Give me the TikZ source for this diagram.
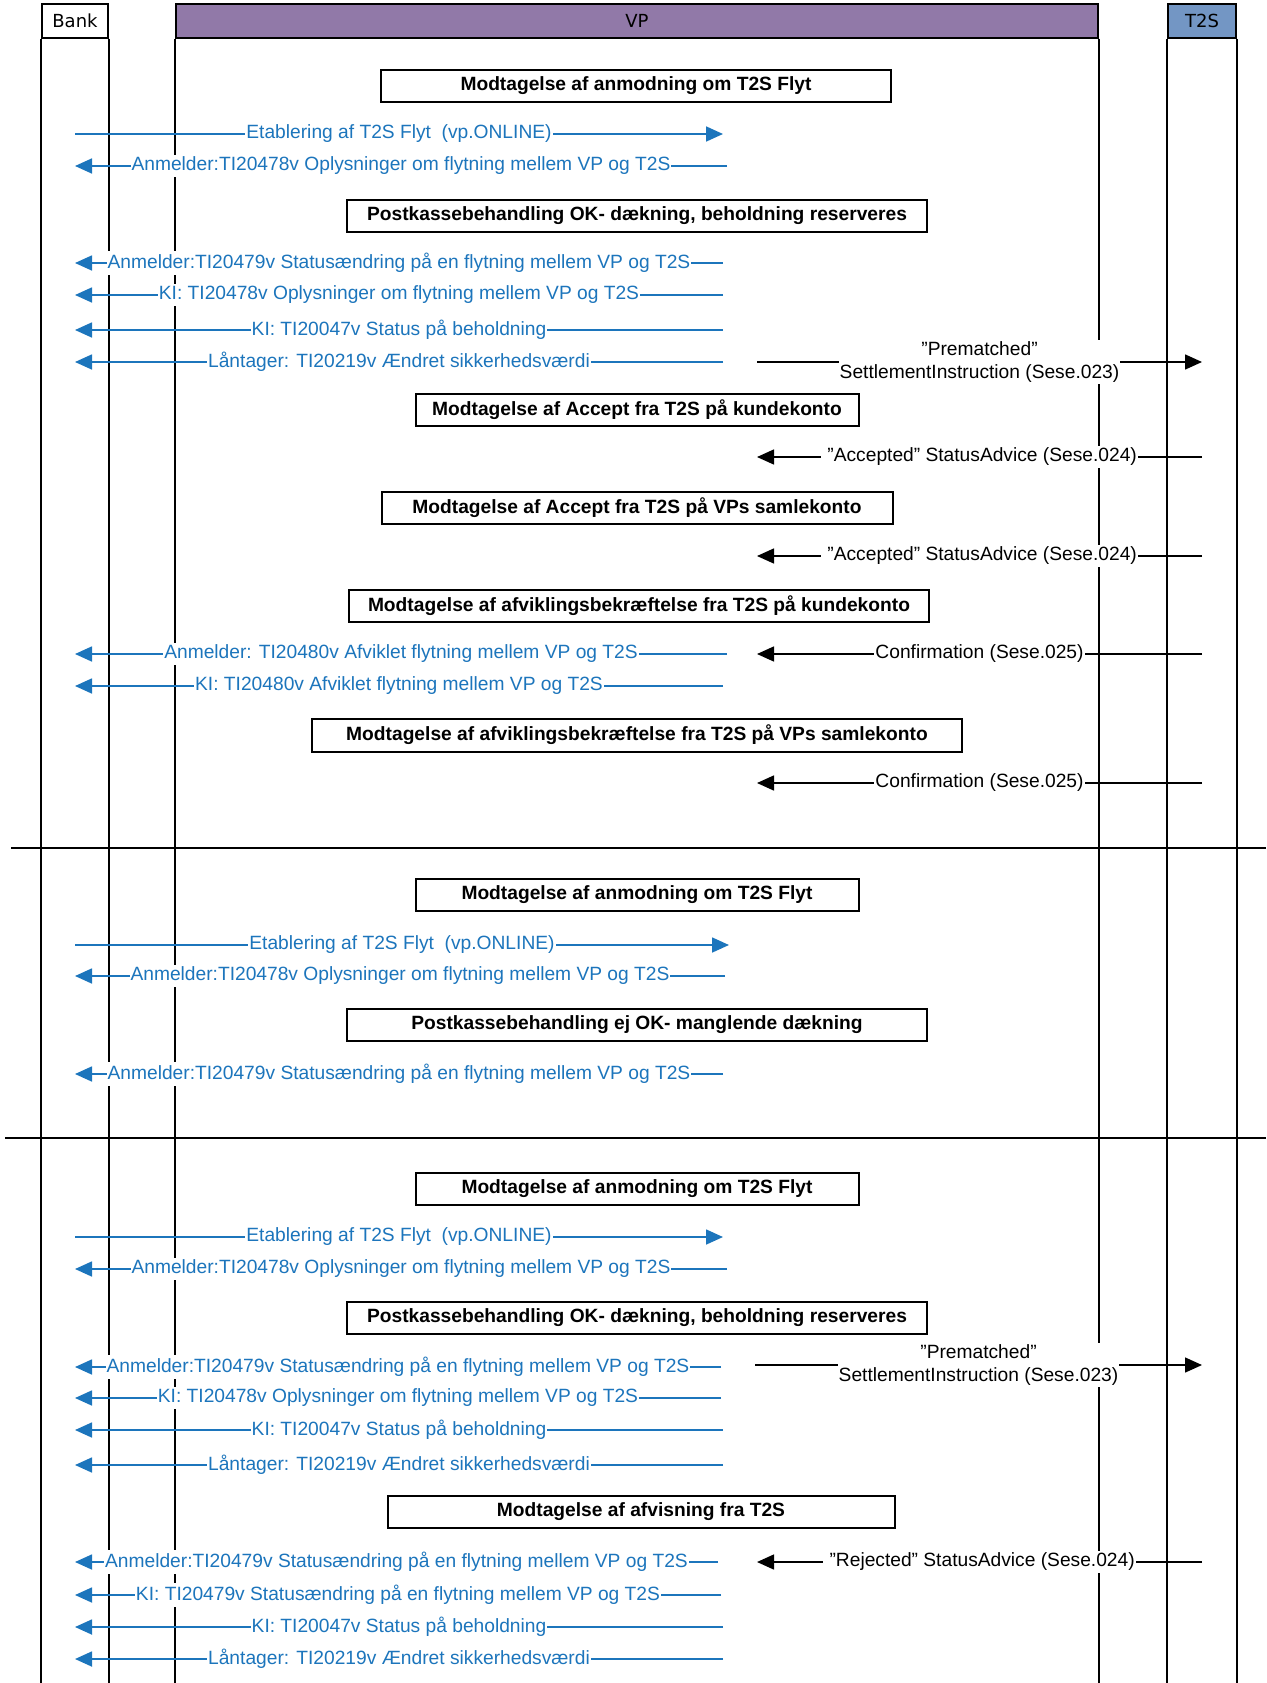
\documentclass[tikz,border=0pt]{standalone}
\usepackage{fontspec}
\setmainfont{Liberation Sans}
\newfontfamily\hdrfont{DejaVu Sans}
\usepackage{tikz}
\usetikzlibrary{arrows.meta}

\definecolor{msgblue}{RGB}{28,117,188}
\definecolor{vppurple}{RGB}{145,121,168}
\definecolor{tsblue}{RGB}{115,150,196}
\newcommand{\msgfont}{\fontsize{19.2}{23}\selectfont}

\tikzset{
  hdr/.style={draw, line width=2pt, minimum height=34pt, inner sep=0pt, font=\hdrfont\fontsize{18}{20}\selectfont},
  phase/.style={draw, line width=2pt, fill=white, minimum height=32pt, inner sep=0pt, font=\msgfont\bfseries},
  life/.style={line width=2pt},
  sepline/.style={line width=2pt},
  bmsg/.style={draw=msgblue, line width=1.7pt, -{Triangle[length=17pt 0,width=15pt 0]}},
  kmsg/.style={draw=black, line width=1.5pt, -{Triangle[length=17pt 0,width=15pt 0]}},
  blbl/.style={fill=white, text=msgblue, inner xsep=1pt, inner ysep=2pt, font=\msgfont},
  klbl/.style={fill=white, inner xsep=1pt, inner ysep=2pt, font=\msgfont, align=center},
}

\begin{document}
\begin{tikzpicture}[x=1pt, y=-1pt]
 \useasboundingbox (0,0) rectangle (1266,1683);

 \node[hdr, minimum width=66pt] (bank) at (75,21) {Bank};
 \node[hdr, fill=vppurple, minimum width=922pt] (vp) at (637,21) {VP};
 \node[hdr, fill=tsblue, minimum width=68pt] (t2s) at (1202,21) {T2S};

 \coordinate (bot) at (0,1683);
 \coordinate (rgt) at (1266,0);
 \draw[life] (bank.south west) -- (bank.south west |- bot);
 \draw[life] (bank.south east) -- (bank.south east |- bot);
 \draw[life] (vp.south west) -- (vp.south west |- bot);
 \draw[life] (vp.south east) -- (vp.south east |- bot);
 \draw[life] (t2s.south west) -- (t2s.south west |- bot);
 \draw[life] (t2s.south east) -- (t2s.south east |- bot);

 \coordinate (sepA) at (11,848);
 \coordinate (sepB) at (5,1138);
 \draw[sepline] (sepA) -- (sepA -| rgt);
 \draw[sepline] (sepB) -- (sepB -| rgt);

 % first part
 \node[phase, minimum width=510pt] (ph1) at (636,86) {Modtagelse af anmodning om T2S Flyt};
 \coordinate (e1) at (723,134);
 \draw[bmsg] (e1 -| bank) -- node[blbl] {Etablering af T2S Flyt\ \ (vp.ONLINE)} (e1);
 \coordinate (b1) at (727,166);
 \draw[bmsg] (b1) -- node[blbl] {Anmelder:TI20478v Oplysninger om flytning mellem VP og T2S} (b1 -| bank);
 \node[phase, minimum width=580pt] (ph2) at (637,216) {Postkassebehandling OK- dækning, beholdning reserveres};
 \coordinate (b2) at (723,263);
 \draw[bmsg] (b2) -- node[blbl] {Anmelder:TI20479v Statusændring på en flytning mellem VP og T2S} (b2 -| bank);
 \coordinate (b3) at (723,295);
 \draw[bmsg] (b3) -- node[blbl] {KI: TI20478v Oplysninger om flytning mellem VP og T2S} (b3 -| bank);
 \coordinate (b4) at (723,330);
 \draw[bmsg] (b4) -- node[blbl] {KI: TI20047v Status på beholdning} (b4 -| bank);
 \coordinate (b5) at (723,362);
 \draw[bmsg] (b5) -- node[blbl] {Låntager: TI20219v Ændret sikkerhedsværdi} (b5 -| bank);
 \coordinate (k1) at (757,362);
 \draw[kmsg] (k1) -- node[klbl] {”Prematched”\\SettlementInstruction (Sese.023)} (k1 -| t2s);
 \node[phase, minimum width=443pt] (ph3) at (637,410) {Modtagelse af Accept fra T2S på kundekonto};
 \coordinate (k2) at (757,457);
 \draw[kmsg] (k2 -| t2s) -- node[klbl] {\ ”Accepted” StatusAdvice (Sese.024)} (k2);
 \node[phase, minimum width=511pt] (ph4) at (637,508) {Modtagelse af Accept fra T2S på VPs samlekonto};
 \coordinate (k3) at (757,556);
 \draw[kmsg] (k3 -| t2s) -- node[klbl] {\ ”Accepted” StatusAdvice (Sese.024)} (k3);
 \node[phase, minimum width=580pt] (ph5) at (639,606) {Modtagelse af afviklingsbekræftelse fra T2S på kundekonto};
 \coordinate (b6) at (727,654);
 \draw[bmsg] (b6) -- node[blbl] {Anmelder: TI20480v Afviklet flytning mellem VP og T2S} (b6 -| bank);
 \coordinate (k4) at (757,654);
 \draw[kmsg] (k4 -| t2s) -- node[klbl] {Confirmation (Sese.025)} (k4);
 \coordinate (b7) at (723,686);
 \draw[bmsg] (b7) -- node[blbl] {KI: TI20480v Afviklet flytning mellem VP og T2S} (b7 -| bank);
 \node[phase, minimum width=650pt, minimum height=33pt] (ph6) at (637,735) {Modtagelse af afviklingsbekræftelse fra T2S på VPs samlekonto};
 \coordinate (k5) at (757,783);
 \draw[kmsg] (k5 -| t2s) -- node[klbl] {Confirmation (Sese.025)} (k5);

 % second part
 \node[phase, minimum width=443pt] (ph7) at (637,895) {Modtagelse af anmodning om T2S Flyt};
 \coordinate (e2) at (729,945);
 \draw[bmsg] (e2 -| bank) -- node[blbl] {Etablering af T2S Flyt\ \ (vp.ONLINE)} (e2);
 \coordinate (b8) at (725,976);
 \draw[bmsg] (b8) -- node[blbl] {Anmelder:TI20478v Oplysninger om flytning mellem VP og T2S} (b8 -| bank);
 \node[phase, minimum width=580pt] (ph8) at (637,1025) {Postkassebehandling ej OK- manglende dækning};
 \coordinate (b9) at (723,1074);
 \draw[bmsg] (b9) -- node[blbl] {Anmelder:TI20479v Statusændring på en flytning mellem VP og T2S} (b9 -| bank);

 % third part
 \node[phase, minimum width=443pt] (ph9) at (637,1189) {Modtagelse af anmodning om T2S Flyt};
 \coordinate (e3) at (723,1237);
 \draw[bmsg] (e3 -| bank) -- node[blbl] {Etablering af T2S Flyt\ \ (vp.ONLINE)} (e3);
 \coordinate (b10) at (727,1269);
 \draw[bmsg] (b10) -- node[blbl] {Anmelder:TI20478v Oplysninger om flytning mellem VP og T2S} (b10 -| bank);
 \node[phase, minimum width=580pt] (ph10) at (637,1318) {Postkassebehandling OK- dækning, beholdning reserveres};
 \coordinate (b11) at (721,1367);
 \draw[bmsg] (b11) -- node[blbl] {Anmelder:TI20479v Statusændring på en flytning mellem VP og T2S} (b11 -| bank);
 \coordinate (k6) at (755,1365);
 \draw[kmsg] (k6) -- node[klbl] {”Prematched”\\SettlementInstruction (Sese.023)} (k6 -| t2s);
 \coordinate (b12) at (721,1398);
 \draw[bmsg] (b12) -- node[blbl] {KI: TI20478v Oplysninger om flytning mellem VP og T2S} (b12 -| bank);
 \coordinate (b13) at (723,1430);
 \draw[bmsg] (b13) -- node[blbl] {KI: TI20047v Status på beholdning} (b13 -| bank);
 \coordinate (b14) at (723,1465);
 \draw[bmsg] (b14) -- node[blbl] {Låntager: TI20219v Ændret sikkerhedsværdi} (b14 -| bank);
 \node[phase, minimum width=507pt] (ph11) at (641,1512) {Modtagelse af afvisning fra T2S};
 \coordinate (b15) at (718,1562);
 \draw[bmsg] (b15) -- node[blbl] {Anmelder:TI20479v Statusændring på en flytning mellem VP og T2S} (b15 -| bank);
 \coordinate (k7) at (757,1562);
 \draw[kmsg] (k7 -| t2s) -- node[klbl] {\ ”Rejected” StatusAdvice (Sese.024)} (k7);
 \coordinate (b16) at (721,1595);
 \draw[bmsg] (b16) -- node[blbl] {KI: TI20479v Statusændring på en flytning mellem VP og T2S} (b16 -| bank);
 \coordinate (b17) at (723,1627);
 \draw[bmsg] (b17) -- node[blbl] {KI: TI20047v Status på beholdning} (b17 -| bank);
 \coordinate (b18) at (723,1659);
 \draw[bmsg] (b18) -- node[blbl] {Låntager: TI20219v Ændret sikkerhedsværdi} (b18 -| bank);
\end{tikzpicture}
\end{document}
